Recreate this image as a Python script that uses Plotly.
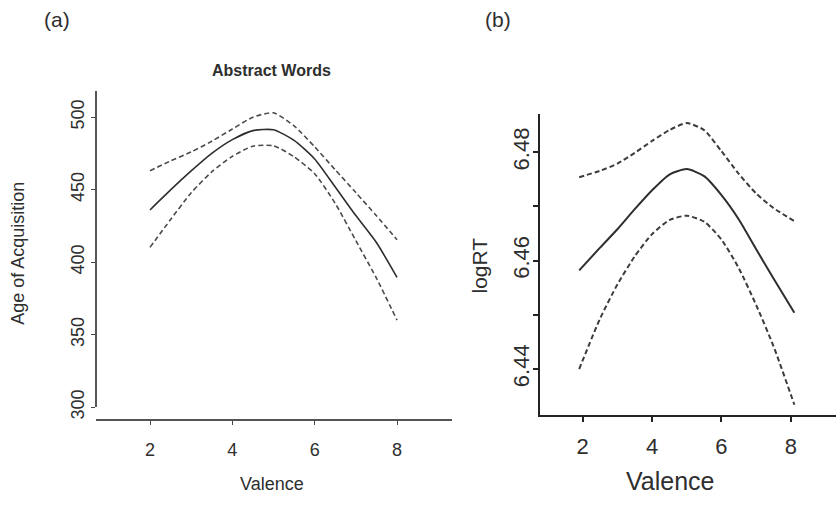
import plotly.graph_objects as go

# ---------- data ----------
# Panel (a): Abstract Words, Age of Acquisition vs Valence
a_valence = [2, 2.5, 3, 3.5, 4, 4.5, 5, 5.5, 6, 6.5, 7, 7.5, 8]
a_fit     = [436.0, 449.8, 462.9, 475.0, 484.5, 490.7, 491.3, 484.0, 471.2, 451.8, 432.1, 413.5, 389.5]
a_upper   = [463.0, 469.8, 476.0, 483.4, 491.8, 500.0, 503.0, 494.0, 479.5, 463.7, 448.0, 432.0, 415.5]
a_lower   = [410.2, 429.4, 447.8, 462.3, 473.0, 480.0, 480.3, 472.7, 461.0, 440.5, 414.8, 389.0, 360.0]
a_xticks  = [2, 4, 6, 8]
a_yticks  = [300, 350, 400, 450, 500]

# Panel (b): logRT vs Valence
b_valence = [1.9, 2.5, 3, 3.5, 4, 4.5, 5, 5.5, 6, 6.5, 7, 7.5, 8.1]
b_fit     = [6.4582, 6.4624, 6.4658, 6.4695, 6.4730, 6.4759, 6.4769, 6.4756, 6.4721, 6.4676, 6.4621, 6.4567, 6.4504]
b_upper   = [6.4754, 6.4766, 6.4779, 6.4799, 6.4821, 6.4841, 6.4854, 6.4841, 6.4802, 6.4760, 6.4724, 6.4697, 6.4673]
b_lower   = [6.4400, 6.4493, 6.4556, 6.4608, 6.4649, 6.4675, 6.4683, 6.4672, 6.4639, 6.4586, 6.4518, 6.4442, 6.4334]
b_xticks  = [2, 4, 6, 8]
b_yticks  = [6.44, 6.45, 6.46, 6.47, 6.48]
b_yticktext = ["6.44", "", "6.46", "", "6.48"]

W, H = 836, 505
FONT = "Liberation Sans, Arial, sans-serif"
INK = "#2e2e2e"

def px_x(p):
    return p / W

def px_y(p):
    return 1 - p / H

fig = go.Figure()

def add_band(x, fit, up, lo, xa, ya, width, dash_color):
    fig.add_trace(go.Scatter(x=x, y=fit, mode="lines", xaxis=xa, yaxis=ya,
                             line=dict(color=INK, width=width, shape="spline", smoothing=0.6),
                             showlegend=False, hoverinfo="skip"))
    for s in (up, lo):
        fig.add_trace(go.Scatter(x=x, y=s, mode="lines", xaxis=xa, yaxis=ya,
                                 line=dict(color=dash_color, width=width, dash="5px,3px",
                                           shape="spline", smoothing=0.6),
                                 showlegend=False, hoverinfo="skip"))

add_band(a_valence, a_fit, a_upper, a_lower, "x", "y", 1.6, "#4a4a4a")
add_band(b_valence, b_fit, b_upper, b_lower, "x2", "y2", 2.0, "#3c3c3c")

axis_common = dict(showgrid=False, zeroline=False, showline=True, ticks="outside",
                   mirror=False)

fig.update_layout(
    width=W, height=H,
    margin=dict(l=0, r=0, t=0, b=0),
    paper_bgcolor="white", plot_bgcolor="white",
    showlegend=False,
    font=dict(family=FONT, color=INK),
    # panel (a)
    xaxis=dict(axis_common, domain=[px_x(96), px_x(452)], range=[0.688, 9.336],
               anchor="free", position=px_y(430),
               tickvals=a_xticks, ticklen=4, tickwidth=1.3, tickcolor="#444",
               linecolor="#555", linewidth=1.6,
               tickfont=dict(size=18, family=FONT, color=INK), ticklabelstandoff=10),
    yaxis=dict(axis_common, domain=[px_y(417), px_y(93)], range=[300, 518.2],
               anchor="free", position=px_x(96),
               tickvals=a_yticks, ticklen=4, tickwidth=1.3, tickcolor="#444",
               linecolor="#555", linewidth=1.6, tickangle=-90,
               tickfont=dict(size=18, family=FONT, color=INK), ticklabelstandoff=0),
    # panel (b)
    xaxis2=dict(axis_common, domain=[px_x(540), 1.0], range=[0.77, 9.3],
                anchor="y2",
                tickvals=b_xticks, ticklen=5, tickwidth=1.5, tickcolor="#222",
                linecolor="#222", linewidth=2,
                tickfont=dict(size=22, family=FONT, color=INK), ticklabelstandoff=6),
    yaxis2=dict(axis_common, domain=[px_y(425), px_y(117)], range=[6.43153, 6.48703],
                anchor="x2",
                tickvals=b_yticks, ticktext=b_yticktext, ticklen=5, tickwidth=1.5,
                tickcolor="#222", linecolor="#222", linewidth=2, tickangle=-90,
                tickfont=dict(size=22, family=FONT, color=INK), ticklabelstandoff=-5),
)

def note(text, x, y, size, angle=0, bold=False):
    fig.add_annotation(text=f"<b>{text}</b>" if bold else text,
                       x=px_x(x), y=px_y(y), xref="paper", yref="paper",
                       xanchor="center", yanchor="middle", showarrow=False,
                       textangle=angle, font=dict(size=size, family=FONT, color=INK))

note("(a)", 57, 20, 21)
note("(b)", 498, 20, 21)
note("Abstract Words", 271, 72, 16, bold=True)
note("Age of Acquisition", 18, 260, 18, angle=-90)
note("Valence", 272, 496, 18)
note("logRT", 480, 272, 21, angle=-90)
note("Valence", 670, 493, 25)

fig.write_html("out.html")
